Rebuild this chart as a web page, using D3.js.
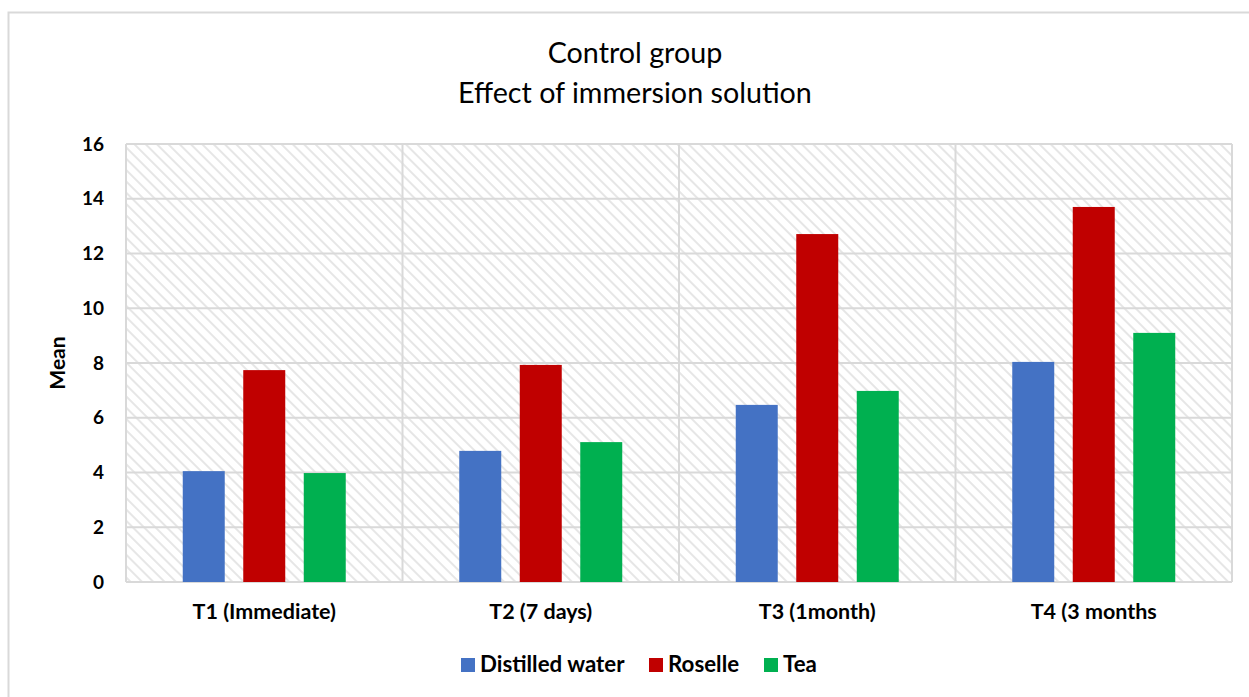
<!DOCTYPE html>
<html><head><meta charset="utf-8">
<script src="https://cdn.jsdelivr.net/npm/d3@7"></script>
<style>body{margin:0;background:#fff;}svg{display:block;}</style>
</head><body>
<svg id="c" width="1249" height="697"></svg>
<script>
const categories = ["T1 (Immediate)", "T2 (7 days)", "T3 (1month)", "T4 (3 months"];
const seriesNames = ["Distilled water", "Roselle", "Tea"];
const distilledWater = [4.05, 4.79, 6.47, 8.04];
const roselle = [7.74, 7.93, 12.71, 13.70];
const tea = [3.98, 5.11, 6.98, 9.10];
const yTicks = [0, 2, 4, 6, 8, 10, 12, 14, 16];
const colors = ["#4472C4", "#C00000", "#00B050"];
const titleLines = ["Control group", "Effect of immersion solution"];

const series = [distilledWater, roselle, tea];
const font = "Lato, 'Open Sans', sans-serif";
const svg = d3.select("#c");

// outer chart border
svg.append("rect").attr("x", 8.5).attr("y", 12.5).attr("width", 1260).attr("height", 700)
  .attr("fill", "#fff").attr("stroke", "#d9d9d9").attr("stroke-width", 2);

const m = {left: 126, right: 1232, top: 144, bottom: 582};
const x = d3.scaleBand().domain(categories).range([m.left, m.right]);
const y = d3.scaleLinear().domain([0, 16]).range([m.bottom, m.top]);

// hatch pattern
const defs = svg.append("defs");
const pat = defs.append("pattern").attr("id", "hatch").attr("patternUnits", "userSpaceOnUse")
  .attr("width", 8).attr("height", 8).attr("patternTransform", "rotate(-45)");
pat.append("rect").attr("width", 8).attr("height", 8).attr("fill", "#fff");
pat.append("line").attr("x1", 0).attr("y1", 0).attr("x2", 0).attr("y2", 8)
  .attr("stroke", "#e6e6e6").attr("stroke-width", 4);

svg.append("rect").attr("x", m.left).attr("y", m.top)
  .attr("width", m.right - m.left).attr("height", m.bottom - m.top)
  .attr("fill", "url(#hatch)");

// horizontal gridlines
svg.append("g").selectAll("line").data(yTicks).join("line")
  .attr("x1", m.left).attr("x2", m.right)
  .attr("y1", d => y(d)).attr("y2", d => y(d))
  .attr("stroke", "#d9d9d9").attr("stroke-width", 2);

// vertical gridlines at category boundaries
const bounds = categories.map(c => x(c)).concat([m.right]);
svg.append("g").selectAll("line").data(bounds).join("line")
  .attr("x1", d => d).attr("x2", d => d)
  .attr("y1", m.top).attr("y2", m.bottom)
  .attr("stroke", "#d9d9d9").attr("stroke-width", 2);

// bars
const inner = d3.scaleBand().domain(d3.range(3)).range([0, x.bandwidth()])
  .paddingInner(0.306).paddingOuter(0.938);
const g = svg.append("g");
series.forEach((vals, si) => {
  g.selectAll(".b" + si).data(vals).join("rect")
    .attr("x", (d, i) => x(categories[i]) + inner(si))
    .attr("width", inner.bandwidth())
    .attr("y", d => y(d))
    .attr("height", d => y(0) - y(d))
    .attr("fill", colors[si]);
});

// y axis
const yAxis = d3.axisLeft(y).tickValues(yTicks).tickSize(0).tickPadding(0);
const ya = svg.append("g").attr("transform", `translate(${m.left - 22},0)`).call(yAxis);
ya.select(".domain").remove();
ya.selectAll("text").attr("font-family", font).attr("font-weight", "bold")
  .attr("font-size", 19).attr("fill", "#000");

// x axis
const xAxis = d3.axisBottom(x).tickSize(0).tickPadding(0);
const xa = svg.append("g").attr("transform", `translate(0,${m.bottom + 22})`).call(xAxis);
xa.select(".domain").remove();
xa.selectAll("text").attr("font-family", font).attr("font-weight", "bold")
  .attr("font-size", 21.5).attr("fill", "#000");

// y label
svg.append("text").attr("transform", `translate(65,${(m.top + m.bottom) / 2}) rotate(-90)`)
  .attr("text-anchor", "middle").attr("font-family", font).attr("font-weight", "bold")
  .attr("font-size", 21).text("Mean");

// title
svg.append("g").selectAll("text").data(titleLines).join("text")
  .attr("x", 635).attr("y", (d, i) => 63 + i * 40).attr("text-anchor", "middle")
  .attr("font-family", font).attr("font-size", 28.7).attr("fill", "#000").text(d => d);

// legend
const legX = [461, 649, 764];
const lg = svg.append("g");
seriesNames.forEach((n, i) => {
  lg.append("rect").attr("x", legX[i]).attr("y", 658).attr("width", 14).attr("height", 14).attr("fill", colors[i]);
  lg.append("text").attr("x", legX[i] + 19).attr("y", 672).attr("font-family", font)
    .attr("font-weight", "bold").attr("font-size", 22.3).text(n);
});
</script>
</body></html>
